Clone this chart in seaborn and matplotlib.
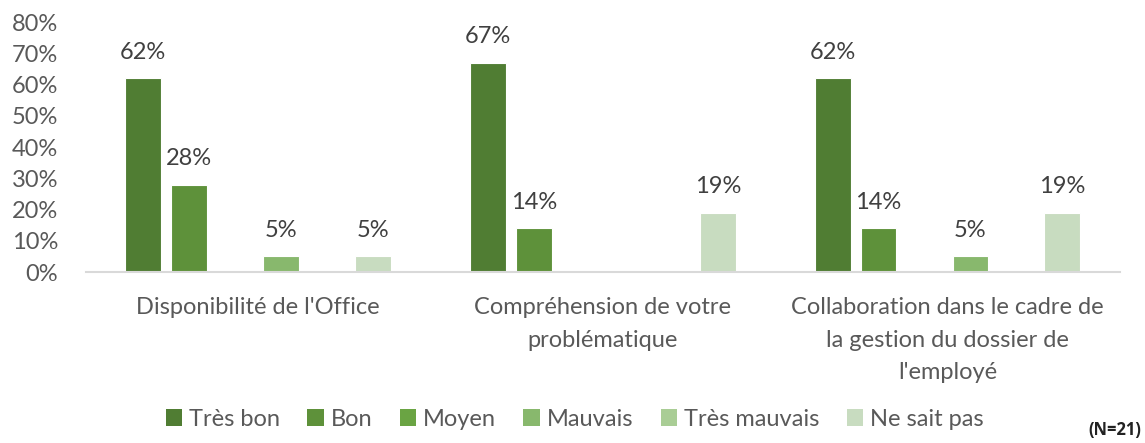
import matplotlib
matplotlib.use("Agg")
import matplotlib.pyplot as plt
import seaborn as sns
import pandas as pd
from matplotlib.patches import Patch

categories = ["Disponibilité de l'Office",
              "Compréhension de votre\nproblématique",
              "Collaboration dans le cadre de\nla gestion du dossier de\nl'employé"]
series = ["Très bon", "Bon", "Moyen", "Mauvais", "Très mauvais", "Ne sait pas"]
tres_bon = [62, 67, 62]
bon = [28, 14, 14]
moyen = [0, 0, 0]
mauvais = [5, 0, 5]
tres_mauvais = [0, 0, 0]
ne_sait_pas = [5, 19, 19]
colors = ["#507d33", "#5e913a", "#6aa443", "#88b86d", "#a9cd95", "#c8dcc0"]
yticks = [0, 10, 20, 30, 40, 50, 60, 70, 80]

values = [tres_bon, bon, moyen, mauvais, tres_mauvais, ne_sait_pas]
rows = []
for s, vals in zip(series, values):
    for c, v in zip(categories, vals):
        rows.append({"cat": c, "serie": s, "val": v})
df = pd.DataFrame(rows)

sns.set_theme(style="white")
plt.rcParams['font.family'] = ['Lato', 'DejaVu Sans']
text_color = "#595959"
fs = 17

fig = plt.figure(figsize=(11.45, 4.43), dpi=100)
ax = fig.add_axes([0.075, 0.386, 0.903, 0.564])
sns.barplot(data=df, x="cat", y="val", hue="serie", palette=colors,
            hue_order=series, order=categories, gap=0.22, width=0.8,
            saturation=1, edgecolor="white", linewidth=0.8, legend=False, ax=ax)

for cont, s in zip(ax.containers, series):
    labels = [f"{v:.0f}%" if v > 0 else "" for v in cont.datavalues]
    ax.bar_label(cont, labels=labels, padding=11, fontsize=fs, color="#404040")

ax.set_ylim(0, 80)
ax.set_xlim(-0.5, 2.5)
ax.set_yticks(yticks)
ax.set_yticklabels([f"{t}%" for t in yticks], fontsize=fs, color=text_color)
ax.tick_params(axis="y", length=0, pad=20)
ax.tick_params(axis="x", length=0, pad=18)
ax.set_xticks(range(len(categories)))
ax.set_xticklabels(categories, fontsize=fs, color=text_color, linespacing=1.68)
ax.set_xlabel("")
ax.set_ylabel("")
for sp in ["top", "right", "left"]:
    ax.spines[sp].set_visible(False)
ax.spines["bottom"].set_color("#d9d9d9")
ax.spines["bottom"].set_linewidth(1.5)

handles = [Patch(facecolor=c, edgecolor="none") for c in colors]
fig.legend(handles, series, loc="center", bbox_to_anchor=(0.502, 0.054), ncol=6,
           frameon=False, fontsize=fs, labelcolor=text_color, handlelength=0.7,
           handleheight=0.7, handletextpad=0.3, columnspacing=1.15)

fig.text(0.997, 0.008, "(N=21)", ha="right", va="bottom", fontsize=12,
         fontweight="bold", color="#222222", family=['Open Sans', 'DejaVu Sans'])

fig.savefig("out.png", dpi=100)
